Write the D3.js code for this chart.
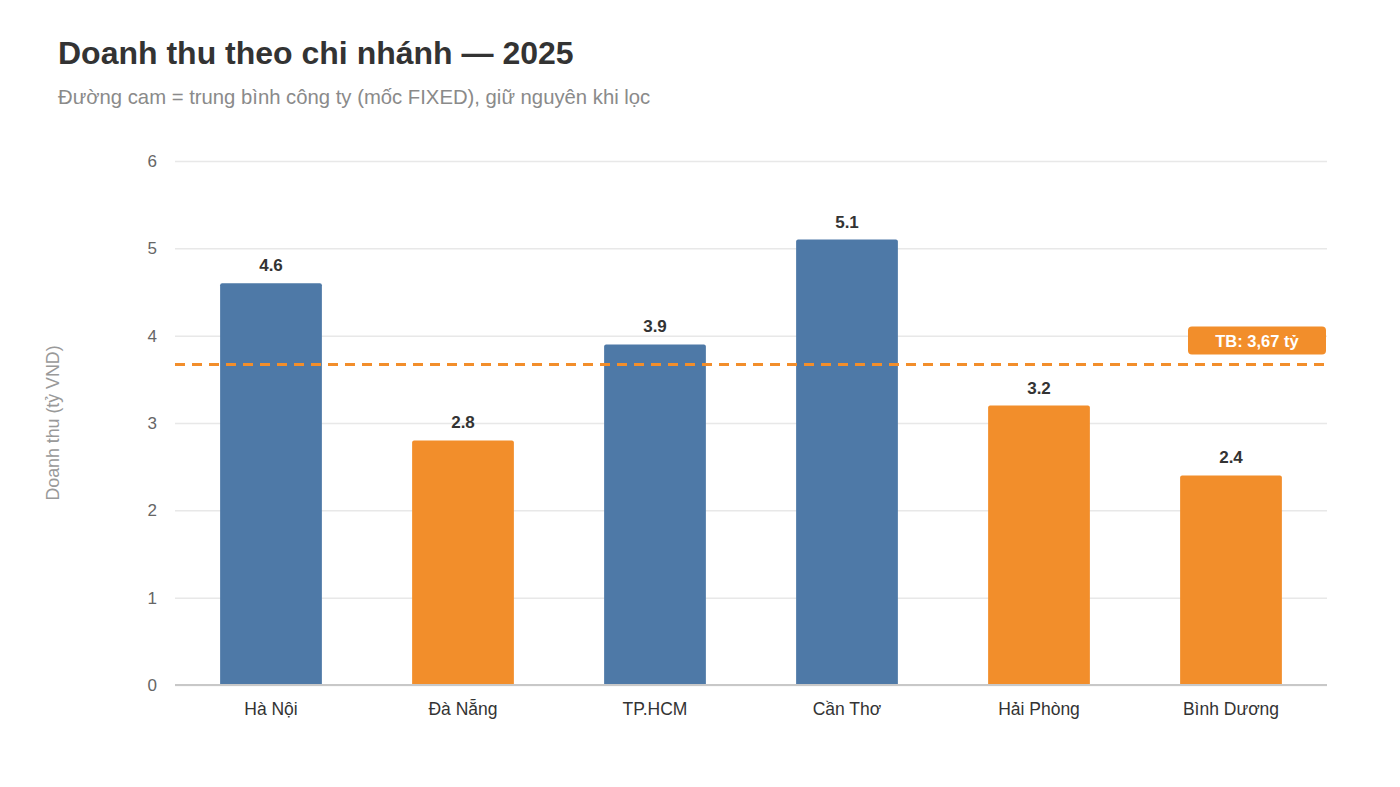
<!DOCTYPE html>
<html>
<head>
<meta charset="utf-8">
<script src="https://cdn.jsdelivr.net/npm/d3@7"></script>
<style>
  body { margin: 0; background: #fff; font-family: "Liberation Sans", Arial, Helvetica, sans-serif; }
  svg { display: block; }
</style>
</head>
<body>
<svg id="chart" width="1400" height="787"></svg>
<script>
// dữ liệu
const chiNhanh = ["Hà Nội", "Đà Nẵng", "TP.HCM", "Cần Thơ", "Hải Phòng", "Bình Dương"];
const doanhThu = [4.6, 2.8, 3.9, 5.1, 3.2, 2.4];
const trungBinh = 3.67;
const yTicks = [0, 1, 2, 3, 4, 5, 6];

const mauTren = "#4e79a7", mauDuoi = "#f28e2b";

const svg = d3.select("#chart");
const mLeft = 175, mRight = 1327, mTop = 161, mBottom = 685;

const x = d3.scaleBand()
    .domain(chiNhanh)
    .range([mLeft, mRight])
    .paddingInner(0.47)
    .paddingOuter(0.235);

const y = d3.scaleLinear().domain([0, 6]).range([mBottom, mTop]);

// tiêu đề
svg.append("text")
    .attr("x", 58).attr("y", 64)
    .attr("font-size", 32).attr("font-weight", "bold").attr("fill", "#333")
    .text("Doanh thu theo chi nhánh — 2025");
svg.append("text")
    .attr("x", 58).attr("y", 104)
    .attr("font-size", 20.3).attr("fill", "#8a8a8a")
    .text("Đường cam = trung bình công ty (mốc FIXED), giữ nguyên khi lọc");

// lưới + trục y
const yAxis = svg.append("g")
    .attr("transform", `translate(${mLeft},0)`)
    .call(d3.axisLeft(y).tickValues(yTicks).tickSize(-(mRight - mLeft)).tickPadding(18).tickFormat(d3.format("d")));
yAxis.select(".domain").remove();
yAxis.selectAll(".tick line").attr("stroke", "#e8e8e8").attr("stroke-width", 1.5);
yAxis.selectAll(".tick text").attr("font-size", 17).attr("fill", "#666")
    .attr("font-family", "Liberation Sans, Arial, sans-serif");

svg.append("text")
    .attr("transform", `translate(59,${(mTop + mBottom) / 2}) rotate(-90)`)
    .attr("text-anchor", "middle")
    .attr("font-size", 17.8).attr("fill", "#999")
    .text("Doanh thu (tỷ VND)");

// cột
const data = chiNhanh.map((c, i) => ({ c, v: doanhThu[i] }));
svg.append("g").selectAll("path")
    .data(data)
    .join("path")
    .attr("fill", d => d.v >= trungBinh ? mauTren : mauDuoi)
    .attr("d", d => {
        const x0 = x(d.c), w = x.bandwidth(), y0 = y(d.v), r = 2;
        return `M${x0},${mBottom}V${y0 + r}Q${x0},${y0} ${x0 + r},${y0}H${x0 + w - r}Q${x0 + w},${y0} ${x0 + w},${y0 + r}V${mBottom}Z`;
    });

svg.append("g").selectAll("text")
    .data(data)
    .join("text")
    .attr("x", d => x(d.c) + x.bandwidth() / 2)
    .attr("y", d => y(d.v) - 12)
    .attr("text-anchor", "middle")
    .attr("font-size", 17).attr("font-weight", "bold").attr("fill", "#333")
    .text(d => d.v.toFixed(1));

// trục x
svg.append("line")
    .attr("x1", mLeft).attr("x2", mRight)
    .attr("y1", mBottom).attr("y2", mBottom)
    .attr("stroke", "#c8c8c8").attr("stroke-width", 2);

svg.append("g").selectAll("text")
    .data(chiNhanh)
    .join("text")
    .attr("x", d => x(d) + x.bandwidth() / 2)
    .attr("y", 715)
    .attr("text-anchor", "middle")
    .attr("font-size", 17.5).attr("fill", "#333")
    .text(d => d);

// đường trung bình
const yTB = Math.round(y(trungBinh)) + 0.5;
svg.append("line")
    .attr("x1", mLeft).attr("x2", mRight)
    .attr("y1", yTB).attr("y2", yTB)
    .attr("stroke", mauDuoi).attr("stroke-width", 3)
    .attr("stroke-dasharray", "10,7");

const nhan = svg.append("g");
nhan.append("rect")
    .attr("x", 1188).attr("y", yTB - 38)
    .attr("width", mRight - 1188 - 1).attr("height", 28)
    .attr("rx", 4)
    .attr("fill", mauDuoi);
nhan.append("text")
    .attr("x", (1188 + mRight - 1) / 2).attr("y", yTB - 18)
    .attr("text-anchor", "middle")
    .attr("font-size", 16.5).attr("font-weight", "bold").attr("fill", "#fff")
    .text("TB: " + trungBinh.toFixed(2).replace(".", ",") + " tỷ");
</script>
</body>
</html>
